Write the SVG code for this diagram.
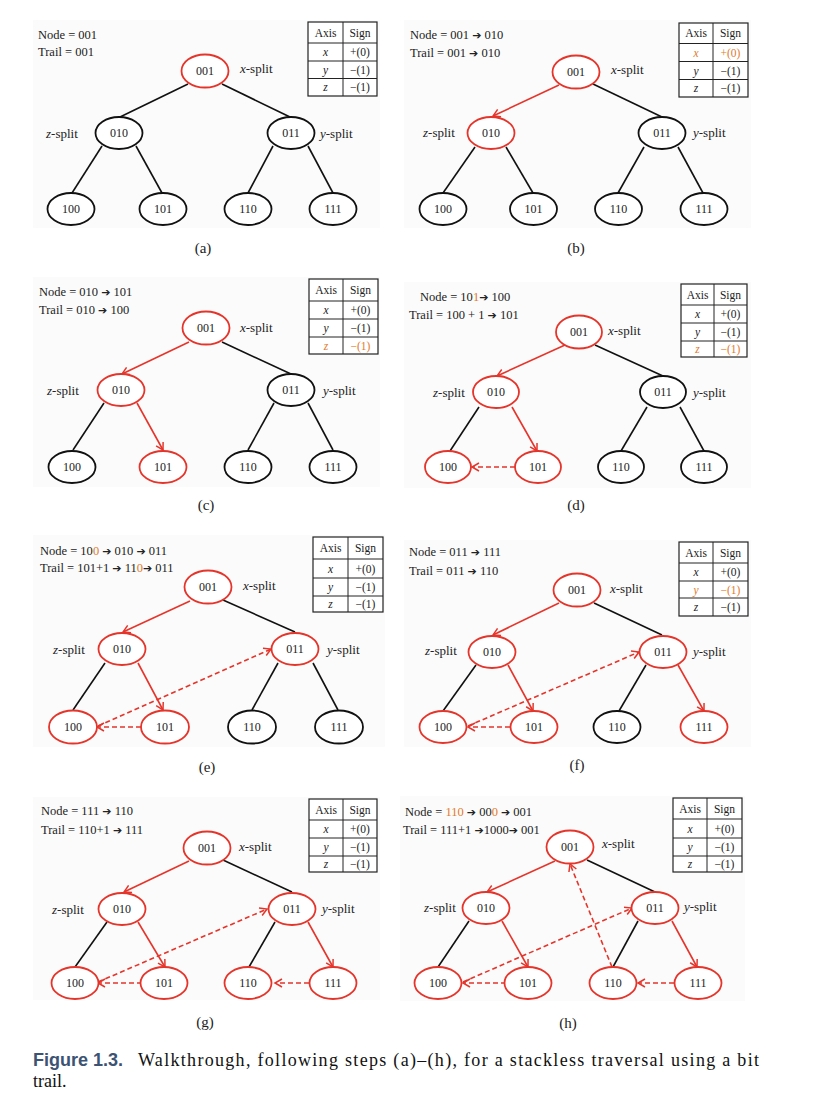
<svg xmlns="http://www.w3.org/2000/svg" width="826" height="1109" viewBox="0 0 826 1109">
<style>
.bg{fill:#fbfbfb}
.node ellipse{fill:#fff;stroke:#111;stroke-width:1.8}
.node.red ellipse{stroke:#e5352b}
.node text{font-family:"Liberation Serif",serif;font-size:12px;text-anchor:middle;dominant-baseline:central;fill:#222}
.k{stroke:#111;stroke-width:1.6;fill:none}
.rs{stroke:#e5352b;stroke-width:1.6;fill:none;marker-end:url(#ah)}
.rd{stroke:#e5352b;stroke-width:1.6;fill:none;stroke-dasharray:5 3;marker-end:url(#ah)}
.hd{font-family:"Liberation Serif",serif;font-size:12.5px;fill:#222}
.ar{font-family:"DejaVu Sans",sans-serif;font-size:11px;font-weight:bold}
.sp{font-family:"Liberation Serif",serif;font-size:13px;fill:#222}
.it{font-style:italic}
.tbl{fill:#fff;stroke:#222;stroke-width:1.2}
.tl{fill:none;stroke:#222;stroke-width:1}
.tt{font-family:"Liberation Serif",serif;font-size:11.5px;text-anchor:middle;dominant-baseline:central;fill:#222}
.o{fill:#e27a2c}
.sub{font-family:"Liberation Serif",serif;font-size:15px;text-anchor:middle;fill:#222}
.capb{font-family:"Liberation Sans",sans-serif;font-weight:bold;font-size:18px;fill:#3c5373}
.cap{font-family:"Liberation Serif",serif;font-size:18px;fill:#111}
</style>
<defs>
<marker id="ah" markerUnits="userSpaceOnUse" markerWidth="12" markerHeight="12" viewBox="0 0 12 12" refX="10" refY="6" orient="auto"><path d="M3,2 L10,6 L3,10" fill="none" stroke="#e5352b" stroke-width="1.5"/></marker>
</defs>
<rect width="826" height="1109" fill="#fff"/>

<!-- Panel backgrounds -->
<rect class="bg" x="33" y="20" width="347" height="208"/>
<rect class="bg" x="404" y="20" width="347" height="208"/>
<rect class="bg" x="33" y="277" width="347" height="210"/>
<rect class="bg" x="404" y="282" width="347" height="206"/>
<rect class="bg" x="33" y="535" width="352" height="212"/>
<rect class="bg" x="404" y="540" width="347" height="207"/>
<rect class="bg" x="33" y="797" width="347" height="203"/>
<rect class="bg" x="400" y="796" width="345" height="205"/>

<!-- ===== Panel (a) ===== -->
<g id="a-edges">
<line class="k" x1="188" y1="84" x2="120" y2="117"/>
<line class="k" x1="222" y1="84" x2="290" y2="117"/>
<line class="k" x1="102" y1="146" x2="72" y2="193"/>
<line class="k" x1="136" y1="146" x2="162" y2="193"/>
<line class="k" x1="273" y1="146" x2="248" y2="193"/>
<line class="k" x1="308" y1="146" x2="333" y2="193"/>
</g>
<g id="a-n001" class="node red"><ellipse cx="205" cy="71" rx="23.5" ry="16.5"/><text x="205" y="71">001</text></g>
<g id="a-n010" class="node"><ellipse cx="119" cy="133" rx="23.5" ry="16"/><text x="119" y="133">010</text></g>
<g id="a-n011" class="node"><ellipse cx="291" cy="133" rx="23.5" ry="16"/><text x="291" y="133">011</text></g>
<g id="a-n100" class="node"><ellipse cx="71" cy="209" rx="23.5" ry="16"/><text x="71" y="209">100</text></g>
<g id="a-n101" class="node"><ellipse cx="163" cy="209" rx="23.5" ry="16"/><text x="163" y="209">101</text></g>
<g id="a-n110" class="node"><ellipse cx="248" cy="209" rx="23.5" ry="16"/><text x="248" y="209">110</text></g>
<g id="a-n111" class="node"><ellipse cx="333" cy="209" rx="23.5" ry="16"/><text x="333" y="209">111</text></g>
<text class="hd" x="38" y="38.5">Node = 001</text>
<text class="hd" x="38" y="55.5">Trail = 001</text>
<text class="sp" x="240" y="72.5"><tspan class="it">x</tspan>-split</text>
<text class="sp" x="46" y="137.5"><tspan class="it">z</tspan>-split</text>
<text class="sp" x="320" y="137.5"><tspan class="it">y</tspan>-split</text>
<g id="a-table">
<rect class="tbl" x="308" y="22" width="69" height="74"/>
<path class="tl" d="M343,22V96M308,43H377M308,61H377M308,78.5H377"/>
<text class="tt" x="325.5" y="32.5">Axis</text><text class="tt" x="360" y="32.5">Sign</text>
<text class="tt it" x="325.5" y="52">x</text><text class="tt" x="360" y="52">+(0)</text>
<text class="tt it" x="325.5" y="69.75">y</text><text class="tt" x="360" y="69.75">−(1)</text>
<text class="tt it" x="325.5" y="87.25">z</text><text class="tt" x="360" y="87.25">−(1)</text>
</g>
<text class="sub" x="203" y="253">(a)</text>

<!-- ===== Panel (b) ===== -->
<g id="b-edges">
<line class="rs" x1="559" y1="85" x2="493" y2="116"/>
<line class="k" x1="593" y1="84" x2="662" y2="117"/>
<line class="k" x1="475" y1="147" x2="443" y2="193"/>
<line class="k" x1="506" y1="147" x2="533" y2="193"/>
<line class="k" x1="644" y1="147" x2="618" y2="193"/>
<line class="k" x1="678" y1="147" x2="703" y2="193"/>
</g>
<g id="b-n001" class="node red"><ellipse cx="576" cy="72" rx="23.5" ry="16.5"/><text x="576" y="72">001</text></g>
<g id="b-n010" class="node red"><ellipse cx="491" cy="133" rx="23.5" ry="16"/><text x="491" y="133">010</text></g>
<g id="b-n011" class="node"><ellipse cx="662" cy="133" rx="23.5" ry="16"/><text x="662" y="133">011</text></g>
<g id="b-n100" class="node"><ellipse cx="443" cy="209" rx="23.5" ry="16"/><text x="443" y="209">100</text></g>
<g id="b-n101" class="node"><ellipse cx="533.5" cy="209" rx="23.5" ry="16"/><text x="533.5" y="209">101</text></g>
<g id="b-n110" class="node"><ellipse cx="618.5" cy="209" rx="23.5" ry="16"/><text x="618.5" y="209">110</text></g>
<g id="b-n111" class="node"><ellipse cx="704" cy="209" rx="23.5" ry="16"/><text x="704" y="209">111</text></g>
<text class="hd" x="410" y="38.5">Node = 001 <tspan class="ar">➔</tspan> 010</text>
<text class="hd" x="410" y="57">Trail = 001 <tspan class="ar">➔</tspan> 010</text>
<text class="sp" x="611" y="73.5"><tspan class="it">x</tspan>-split</text>
<text class="sp" x="423" y="137"><tspan class="it">z</tspan>-split</text>
<text class="sp" x="693" y="137"><tspan class="it">y</tspan>-split</text>
<g id="b-table">
<rect class="tbl" x="679" y="23" width="69" height="74"/>
<path class="tl" d="M713,23V97M679,43.5H748M679,61.5H748M679,79.5H748"/>
<text class="tt" x="696" y="33.25">Axis</text><text class="tt" x="730.5" y="33.25">Sign</text>
<text class="tt it o" x="696" y="52.5">x</text><text class="tt o" x="730.5" y="52.5">+(0)</text>
<text class="tt it" x="696" y="70.5">y</text><text class="tt" x="730.5" y="70.5">−(1)</text>
<text class="tt it" x="696" y="88.25">z</text><text class="tt" x="730.5" y="88.25">−(1)</text>
</g>
<text class="sub" x="576" y="253">(b)</text>

<!-- ===== Panel (c) ===== -->
<g id="c-edges">
<line class="rs" x1="189" y1="342" x2="122" y2="374"/>
<line class="k" x1="222" y1="342" x2="291" y2="374"/>
<line class="k" x1="104" y1="403" x2="73" y2="450"/>
<line class="rs" x1="137" y1="403" x2="163" y2="450"/>
<line class="k" x1="274" y1="403" x2="248" y2="450"/>
<line class="k" x1="308" y1="403" x2="333" y2="450"/>
</g>
<g id="c-n001" class="node red"><ellipse cx="206" cy="328" rx="23.5" ry="16.5"/><text x="206" y="328">001</text></g>
<g id="c-n010" class="node red"><ellipse cx="121" cy="390" rx="23.5" ry="16"/><text x="121" y="390">010</text></g>
<g id="c-n011" class="node"><ellipse cx="291" cy="390" rx="23.5" ry="16"/><text x="291" y="390">011</text></g>
<g id="c-n100" class="node"><ellipse cx="72" cy="467" rx="23.5" ry="16"/><text x="72" y="467">100</text></g>
<g id="c-n101" class="node red"><ellipse cx="163" cy="467" rx="23.5" ry="16"/><text x="163" y="467">101</text></g>
<g id="c-n110" class="node"><ellipse cx="248" cy="467" rx="23.5" ry="16"/><text x="248" y="467">110</text></g>
<g id="c-n111" class="node"><ellipse cx="333" cy="467" rx="23.5" ry="16"/><text x="333" y="467">111</text></g>
<text class="hd" x="39" y="295.5">Node = 010 <tspan class="ar">➔</tspan> 101</text>
<text class="hd" x="39" y="313.5">Trail = 010 <tspan class="ar">➔</tspan> 100</text>
<text class="sp" x="240" y="331.5"><tspan class="it">x</tspan>-split</text>
<text class="sp" x="47" y="395"><tspan class="it">z</tspan>-split</text>
<text class="sp" x="323" y="395"><tspan class="it">y</tspan>-split</text>
<g id="c-table">
<rect class="tbl" x="309" y="279" width="69" height="75"/>
<path class="tl" d="M343,279V354M309,301H378M309,319H378M309,337H378"/>
<text class="tt" x="326" y="290">Axis</text><text class="tt" x="360.5" y="290">Sign</text>
<text class="tt it" x="326" y="310">x</text><text class="tt" x="360.5" y="310">+(0)</text>
<text class="tt it" x="326" y="328">y</text><text class="tt" x="360.5" y="328">−(1)</text>
<text class="tt it o" x="326" y="345.5">z</text><text class="tt o" x="360.5" y="345.5">−(1)</text>
</g>
<text class="sub" x="206" y="510">(c)</text>

<!-- ===== Panel (d) ===== -->
<g id="d-edges">
<line class="rs" x1="565" y1="345" x2="497" y2="376"/>
<line class="k" x1="595" y1="345" x2="663" y2="376"/>
<line class="k" x1="479" y1="407" x2="450" y2="451"/>
<line class="rs" x1="512" y1="407" x2="537" y2="451"/>
<line class="k" x1="647" y1="407" x2="621" y2="451"/>
<line class="k" x1="680" y1="407" x2="704" y2="451"/>
<line class="rd" x1="515" y1="467" x2="472" y2="467"/>
</g>
<g id="d-n001" class="node red"><ellipse cx="579" cy="332" rx="23" ry="16.5"/><text x="579" y="332">001</text></g>
<g id="d-n010" class="node red"><ellipse cx="496" cy="392" rx="23" ry="16"/><text x="496" y="392">010</text></g>
<g id="d-n011" class="node"><ellipse cx="663" cy="392" rx="23" ry="16"/><text x="663" y="392">011</text></g>
<g id="d-n100" class="node red"><ellipse cx="448" cy="467" rx="23" ry="16"/><text x="448" y="467">100</text></g>
<g id="d-n101" class="node red"><ellipse cx="538" cy="467" rx="23" ry="16"/><text x="538" y="467">101</text></g>
<g id="d-n110" class="node"><ellipse cx="621" cy="467" rx="23" ry="16"/><text x="621" y="467">110</text></g>
<g id="d-n111" class="node"><ellipse cx="704" cy="467" rx="23" ry="16"/><text x="704" y="467">111</text></g>
<text class="hd" x="420" y="300.5">Node = 10<tspan class="o">1</tspan><tspan class="ar">➔</tspan> 100</text>
<text class="hd" x="409" y="318.5">Trail = 100 + 1 <tspan class="ar">➔</tspan> 101</text>
<text class="sp" x="608" y="334.5"><tspan class="it">x</tspan>-split</text>
<text class="sp" x="433" y="397"><tspan class="it">z</tspan>-split</text>
<text class="sp" x="693" y="397"><tspan class="it">y</tspan>-split</text>
<g id="d-table">
<rect class="tbl" x="681" y="284" width="66" height="73"/>
<path class="tl" d="M714,284V357M681,305H747M681,323H747M681,341H747"/>
<text class="tt" x="697.5" y="294.5">Axis</text><text class="tt" x="730.5" y="294.5">Sign</text>
<text class="tt it" x="697.5" y="314">x</text><text class="tt" x="730.5" y="314">+(0)</text>
<text class="tt it" x="697.5" y="332">y</text><text class="tt" x="730.5" y="332">−(1)</text>
<text class="tt it o" x="697.5" y="349">z</text><text class="tt o" x="730.5" y="349">−(1)</text>
</g>
<text class="sub" x="576" y="510">(d)</text>

<!-- ===== Panel (e) ===== -->
<g id="e-edges">
<line class="rs" x1="190" y1="601" x2="123" y2="632"/>
<line class="k" x1="223" y1="600" x2="295" y2="632"/>
<line class="k" x1="105" y1="663" x2="73" y2="710"/>
<line class="rs" x1="138" y1="663" x2="163" y2="710"/>
<line class="k" x1="278" y1="663" x2="252" y2="710"/>
<line class="k" x1="313" y1="663" x2="338" y2="710"/>
<line class="rd" x1="141" y1="727" x2="97" y2="727"/>
<line class="rd" x1="98" y1="726" x2="271" y2="649"/>
</g>
<g id="e-n001" class="node red"><ellipse cx="208" cy="587" rx="23.5" ry="16.5"/><text x="208" y="587">001</text></g>
<g id="e-n010" class="node red"><ellipse cx="122" cy="649" rx="23.5" ry="16"/><text x="122" y="649">010</text></g>
<g id="e-n011" class="node red"><ellipse cx="295" cy="649" rx="23.5" ry="16"/><text x="295" y="649">011</text></g>
<g id="e-n100" class="node red"><ellipse cx="73" cy="727" rx="24" ry="16.5"/><text x="73" y="727">100</text></g>
<g id="e-n101" class="node red"><ellipse cx="165" cy="727" rx="24" ry="16.5"/><text x="165" y="727">101</text></g>
<g id="e-n110" class="node"><ellipse cx="252" cy="727" rx="24" ry="16.5"/><text x="252" y="727">110</text></g>
<g id="e-n111" class="node"><ellipse cx="339" cy="727" rx="24" ry="16.5"/><text x="339" y="727">111</text></g>
<text class="hd" x="40" y="554.5">Node = 10<tspan class="o">0</tspan> <tspan class="ar">➔</tspan> 010 <tspan class="ar">➔</tspan> 011</text>
<text class="hd" x="40" y="572">Trail = 101+1 <tspan class="ar">➔</tspan> 11<tspan class="o">0</tspan><tspan class="ar">➔</tspan> 011</text>
<text class="sp" x="243" y="589.5"><tspan class="it">x</tspan>-split</text>
<text class="sp" x="53" y="653.5"><tspan class="it">z</tspan>-split</text>
<text class="sp" x="327" y="653.5"><tspan class="it">y</tspan>-split</text>
<g id="e-table">
<rect class="tbl" x="313" y="537" width="70" height="75"/>
<path class="tl" d="M348,537V612M313,559H383M313,578H383M313,596H383"/>
<text class="tt" x="330.5" y="548">Axis</text><text class="tt" x="365.5" y="548">Sign</text>
<text class="tt it" x="330.5" y="568.5">x</text><text class="tt" x="365.5" y="568.5">+(0)</text>
<text class="tt it" x="330.5" y="587">y</text><text class="tt" x="365.5" y="587">−(1)</text>
<text class="tt it" x="330.5" y="604">z</text><text class="tt" x="365.5" y="604">−(1)</text>
</g>
<text class="sub" x="207" y="772">(e)</text>

<!-- ===== Panel (f) ===== -->
<g id="f-edges">
<line class="rs" x1="559" y1="603" x2="493" y2="635"/>
<line class="k" x1="594" y1="603" x2="662" y2="635"/>
<line class="k" x1="476" y1="665" x2="443" y2="711"/>
<line class="rs" x1="508" y1="665" x2="533" y2="711"/>
<line class="k" x1="646" y1="665" x2="619" y2="711"/>
<line class="rs" x1="678" y1="665" x2="704" y2="711"/>
<line class="rd" x1="510" y1="727" x2="468" y2="727"/>
<line class="rd" x1="468" y1="726" x2="639" y2="652"/>
</g>
<g id="f-n001" class="node red"><ellipse cx="577" cy="590" rx="23.5" ry="16.5"/><text x="577" y="590">001</text></g>
<g id="f-n010" class="node red"><ellipse cx="492" cy="652" rx="23.5" ry="16"/><text x="492" y="652">010</text></g>
<g id="f-n011" class="node red"><ellipse cx="663" cy="652" rx="23.5" ry="16"/><text x="663" y="652">011</text></g>
<g id="f-n100" class="node red"><ellipse cx="443" cy="727" rx="23.5" ry="16"/><text x="443" y="727">100</text></g>
<g id="f-n101" class="node red"><ellipse cx="534" cy="727" rx="23.5" ry="16"/><text x="534" y="727">101</text></g>
<g id="f-n110" class="node"><ellipse cx="617" cy="727" rx="23.5" ry="16"/><text x="617" y="727">110</text></g>
<g id="f-n111" class="node red"><ellipse cx="704" cy="727" rx="23.5" ry="16"/><text x="704" y="727">111</text></g>
<text class="hd" x="409" y="556">Node = 011 <tspan class="ar">➔</tspan> 111</text>
<text class="hd" x="409" y="575">Trail = 011 <tspan class="ar">➔</tspan> 110</text>
<text class="sp" x="610" y="592.5"><tspan class="it">x</tspan>-split</text>
<text class="sp" x="425" y="655"><tspan class="it">z</tspan>-split</text>
<text class="sp" x="693" y="656"><tspan class="it">y</tspan>-split</text>
<g id="f-table">
<rect class="tbl" x="679" y="542" width="69" height="74"/>
<path class="tl" d="M713,542V616M679,563H748M679,581H748M679,598H748"/>
<text class="tt" x="696" y="552.5">Axis</text><text class="tt" x="730.5" y="552.5">Sign</text>
<text class="tt it" x="696" y="572">x</text><text class="tt" x="730.5" y="572">+(0)</text>
<text class="tt it o" x="696" y="589.5">y</text><text class="tt o" x="730.5" y="589.5">−(1)</text>
<text class="tt it" x="696" y="607">z</text><text class="tt" x="730.5" y="607">−(1)</text>
</g>
<text class="sub" x="577" y="770">(f)</text>

<!-- ===== Panel (g) ===== -->
<g id="g-edges">
<line class="rs" x1="189" y1="861" x2="124" y2="892"/>
<line class="k" x1="223" y1="860" x2="292" y2="892"/>
<line class="k" x1="107" y1="922" x2="75" y2="967"/>
<line class="rs" x1="138" y1="922" x2="165" y2="967"/>
<line class="k" x1="275" y1="922" x2="249" y2="967"/>
<line class="rs" x1="308" y1="922" x2="333" y2="967"/>
<line class="rd" x1="142" y1="983" x2="98" y2="983"/>
<line class="rd" x1="309" y1="983" x2="275" y2="983"/>
<line class="rd" x1="98" y1="982" x2="267" y2="909"/>
</g>
<g id="g-n001" class="node red"><ellipse cx="207" cy="848" rx="23.5" ry="16.5"/><text x="207" y="848">001</text></g>
<g id="g-n010" class="node red"><ellipse cx="122" cy="909" rx="23.5" ry="16"/><text x="122" y="909">010</text></g>
<g id="g-n011" class="node red"><ellipse cx="292" cy="909" rx="23.5" ry="16"/><text x="292" y="909">011</text></g>
<g id="g-n100" class="node red"><ellipse cx="75" cy="983" rx="23.5" ry="16"/><text x="75" y="983">100</text></g>
<g id="g-n101" class="node red"><ellipse cx="164" cy="983" rx="23.5" ry="16"/><text x="164" y="983">101</text></g>
<g id="g-n110" class="node red"><ellipse cx="248" cy="983" rx="23.5" ry="16"/><text x="248" y="983">110</text></g>
<g id="g-n111" class="node red"><ellipse cx="333" cy="983" rx="23.5" ry="16"/><text x="333" y="983">111</text></g>
<text class="hd" x="41" y="815">Node = 111 <tspan class="ar">➔</tspan> 110</text>
<text class="hd" x="41" y="833.5">Trail = 110+1 <tspan class="ar">➔</tspan> 111</text>
<text class="sp" x="239" y="850.5"><tspan class="it">x</tspan>-split</text>
<text class="sp" x="52" y="913.5"><tspan class="it">z</tspan>-split</text>
<text class="sp" x="322" y="913"><tspan class="it">y</tspan>-split</text>
<g id="g-table">
<rect class="tbl" x="309" y="799" width="68" height="73"/>
<path class="tl" d="M343,799V872M309,820H377M309,838H377M309,856H377"/>
<text class="tt" x="326" y="809.5">Axis</text><text class="tt" x="360" y="809.5">Sign</text>
<text class="tt it" x="326" y="829">x</text><text class="tt" x="360" y="829">+(0)</text>
<text class="tt it" x="326" y="847">y</text><text class="tt" x="360" y="847">−(1)</text>
<text class="tt it" x="326" y="864">z</text><text class="tt" x="360" y="864">−(1)</text>
</g>
<text class="sub" x="205" y="1027">(g)</text>

<!-- ===== Panel (h) ===== -->
<g id="h-edges">
<line class="rs" x1="555" y1="861" x2="487" y2="892"/>
<line class="k" x1="587" y1="860" x2="655" y2="892"/>
<line class="k" x1="469" y1="921" x2="438" y2="967"/>
<line class="rs" x1="502" y1="921" x2="528" y2="967"/>
<line class="k" x1="638" y1="921" x2="613" y2="967"/>
<line class="rs" x1="672" y1="921" x2="697" y2="967"/>
<line class="rd" x1="506" y1="983" x2="463" y2="983"/>
<line class="rd" x1="674" y1="983" x2="638" y2="983"/>
<line class="rd" x1="463" y1="982" x2="632" y2="908"/>
<line class="rd" x1="612" y1="967" x2="570" y2="864"/>
</g>
<g id="h-n001" class="node red"><ellipse cx="570" cy="847" rx="23.5" ry="16.5"/><text x="570" y="847">001</text></g>
<g id="h-n010" class="node red"><ellipse cx="486" cy="908" rx="23.5" ry="16"/><text x="486" y="908">010</text></g>
<g id="h-n011" class="node red"><ellipse cx="655" cy="908" rx="23.5" ry="16"/><text x="655" y="908">011</text></g>
<g id="h-n100" class="node red"><ellipse cx="438" cy="983" rx="23.5" ry="16"/><text x="438" y="983">100</text></g>
<g id="h-n101" class="node red"><ellipse cx="528" cy="983" rx="23.5" ry="16"/><text x="528" y="983">101</text></g>
<g id="h-n110" class="node red"><ellipse cx="613" cy="983" rx="23.5" ry="16"/><text x="613" y="983">110</text></g>
<g id="h-n111" class="node red"><ellipse cx="698" cy="983" rx="23.5" ry="16"/><text x="698" y="983">111</text></g>
<text class="hd" x="405" y="816">Node = <tspan class="o">110</tspan> <tspan class="ar">➔</tspan> 00<tspan class="o">0</tspan> <tspan class="ar">➔</tspan> 001</text>
<text class="hd" x="403" y="833.5">Trail = 111+1 <tspan class="ar">➔</tspan>1000<tspan class="ar">➔</tspan> 001</text>
<text class="sp" x="602" y="848"><tspan class="it">x</tspan>-split</text>
<text class="sp" x="424" y="912"><tspan class="it">z</tspan>-split</text>
<text class="sp" x="684" y="911"><tspan class="it">y</tspan>-split</text>
<g id="h-table">
<rect class="tbl" x="673" y="798" width="69" height="74"/>
<path class="tl" d="M707,798V872M673,819H742M673,838H742M673,856H742"/>
<text class="tt" x="690" y="808.5">Axis</text><text class="tt" x="724.5" y="808.5">Sign</text>
<text class="tt it" x="690" y="828.5">x</text><text class="tt" x="724.5" y="828.5">+(0)</text>
<text class="tt it" x="690" y="847">y</text><text class="tt" x="724.5" y="847">−(1)</text>
<text class="tt it" x="690" y="864">z</text><text class="tt" x="724.5" y="864">−(1)</text>
</g>
<text class="sub" x="568" y="1028">(h)</text>

<!-- Caption -->
<text class="capb" x="33" y="1066">Figure 1.3.</text>
<text class="cap" x="138" y="1066" textLength="621" lengthAdjust="spacing">Walkthrough, following steps (a)–(h), for a stackless traversal using a bit</text>
<text class="cap" x="33" y="1087">trail.</text>
</svg>
